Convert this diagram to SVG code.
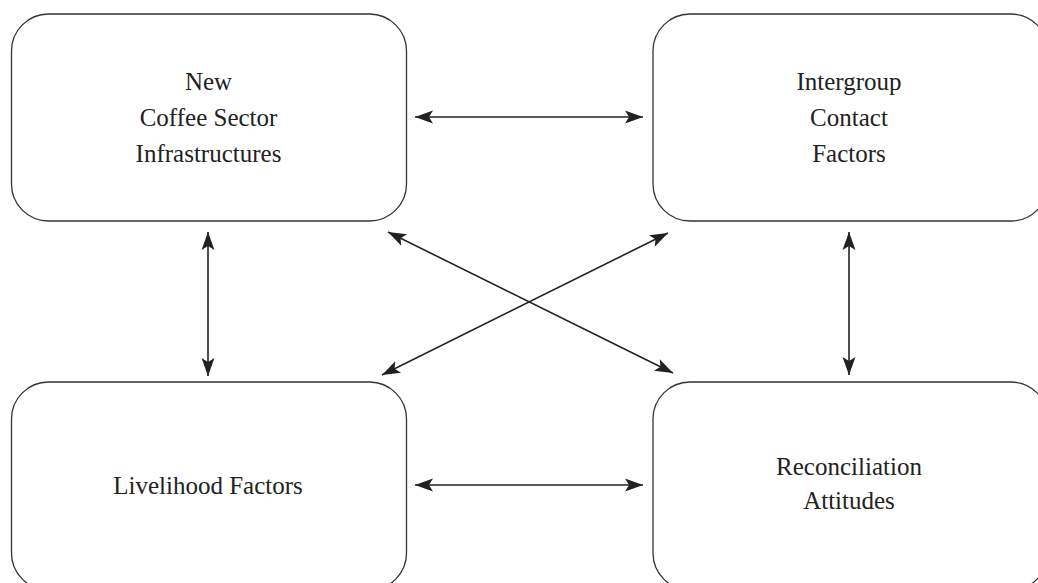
<svg xmlns="http://www.w3.org/2000/svg" width="1038" height="583" viewBox="0 0 1038 583">
<style>
.box{fill:#fff;stroke:#333;stroke-width:1.3}
.con{stroke:#222;stroke-width:1.6;fill:none;marker-start:url(#ah);marker-end:url(#ah)}
</style>
<defs>
<marker id="ah" markerUnits="userSpaceOnUse" orient="auto-start-reverse" refX="18" refY="0" markerWidth="20" markerHeight="14" viewBox="0 -7 20 14" overflow="visible">
<path d="M18,0 L0,-6.5 L4,0 L0,6.5 Z" fill="#222"/>
</marker>
</defs>
<rect width="1038" height="583" fill="#fff"/>
<g id="node-coffee">
<rect class="box" x="11.5" y="14" width="395" height="207" rx="37" ry="37"/>
<text font-family="'Liberation Serif'" font-size="25" fill="#222" text-anchor="middle" x="208.5" y="90">New</text>
<text font-family="'Liberation Serif'" font-size="25" fill="#222" text-anchor="middle" x="208.5" y="126">Coffee Sector</text>
<text font-family="'Liberation Serif'" font-size="25" fill="#222" text-anchor="middle" x="208.5" y="162">Infrastructures</text>
</g>
<g id="node-intergroup">
<rect class="box" x="653" y="14" width="395" height="207" rx="37" ry="37"/>
<text font-family="'Liberation Serif'" font-size="25" fill="#222" text-anchor="middle" x="849" y="90">Intergroup</text>
<text font-family="'Liberation Serif'" font-size="25" fill="#222" text-anchor="middle" x="849" y="126">Contact</text>
<text font-family="'Liberation Serif'" font-size="25" fill="#222" text-anchor="middle" x="849" y="162">Factors</text>
</g>
<g id="node-livelihood">
<rect class="box" x="11.5" y="382" width="395" height="208" rx="37" ry="37"/>
<text font-family="'Liberation Serif'" font-size="25" fill="#222" text-anchor="middle" x="208" y="494">Livelihood Factors</text>
</g>
<g id="node-reconciliation">
<rect class="box" x="653" y="382" width="395" height="208" rx="37" ry="37"/>
<text font-family="'Liberation Serif'" font-size="25" fill="#222" text-anchor="middle" x="849" y="475">Reconciliation</text>
<text font-family="'Liberation Serif'" font-size="25" fill="#222" text-anchor="middle" x="849" y="509">Attitudes</text>
</g>
<g id="connectors">
<line class="con" x1="415" y1="117" x2="643" y2="117"/>
<line class="con" x1="415" y1="485" x2="643" y2="485"/>
<line class="con" x1="208" y1="232" x2="208" y2="376"/>
<line class="con" x1="849" y1="232" x2="849" y2="375"/>
<line class="con" x1="388" y1="232" x2="673" y2="373"/>
<line class="con" x1="668" y1="233" x2="382" y2="375"/>
</g>
</svg>
